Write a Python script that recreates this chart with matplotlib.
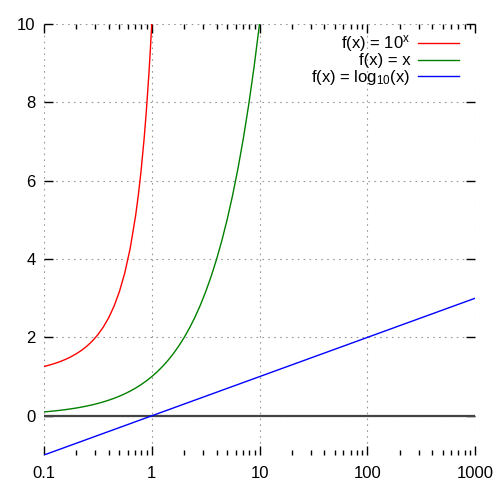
import numpy as np
import matplotlib as mpl
import matplotlib.pyplot as plt

mpl.rcParams.update({
    "font.family": ["Liberation Sans", "DejaVu Sans"],
    "mathtext.default": "regular",
    "font.size": 12,
})

# ---- data ----------------------------------------------------------------
exp_x = [0.1, 0.112, 0.126, 0.141, 0.158, 0.178, 0.2, 0.224, 0.251, 0.282,
         0.316, 0.355, 0.398, 0.447, 0.501, 0.562, 0.631, 0.708, 0.75, 0.794,
         0.85, 0.891, 0.94, 0.97, 1.0]
exp_y = [1.259, 1.294, 1.337, 1.384, 1.439, 1.507, 1.585, 1.675, 1.782, 1.914,
         2.070, 2.265, 2.500, 2.799, 3.170, 3.648, 4.276, 5.105, 5.623, 6.223,
         7.079, 7.780, 8.710, 9.333, 10.0]

lin_x = [0.1, 0.112, 0.126, 0.141, 0.158, 0.178, 0.2, 0.224, 0.251, 0.282,
         0.316, 0.355, 0.398, 0.447, 0.501, 0.562, 0.631, 0.708, 0.794, 0.891,
         1.0, 1.12, 1.26, 1.41, 1.58, 1.78, 2.0, 2.24, 2.51, 2.82,
         3.16, 3.55, 3.98, 4.47, 5.01, 5.62, 6.31, 7.08, 7.94, 8.91, 10.0]
lin_y = [0.1, 0.112, 0.126, 0.141, 0.158, 0.178, 0.2, 0.224, 0.251, 0.282,
         0.316, 0.355, 0.398, 0.447, 0.501, 0.562, 0.631, 0.708, 0.794, 0.891,
         1.0, 1.12, 1.26, 1.41, 1.58, 1.78, 2.0, 2.24, 2.51, 2.82,
         3.16, 3.55, 3.98, 4.47, 5.01, 5.62, 6.31, 7.08, 7.94, 8.91, 10.0]

log_x = [0.1, 1, 10, 100, 1000]
log_y = [-1, 0, 1, 2, 3]

labels = [r"f(x) = 10$^{x}$", "f(x) = x", r"f(x) = log$_{10}$(x)"]
x_ticks = [0.1, 1, 10, 100, 1000]
x_ticklabels = ["0.1", "1", "10", "100", "1000"]
y_ticks = [0, 2, 4, 6, 8, 10]

fig = plt.figure(figsize=(5, 5), dpi=100)
ax = fig.add_axes([0.088, 0.09, 0.862, 0.862])

ax.axhline(0, color="#444444", lw=1.6, zorder=1)
ax.plot(exp_x, exp_y, color="#ff0000", lw=1.0, label=labels[0], zorder=3)
ax.plot(lin_x, lin_y, color="#008000", lw=1.0, label=labels[1], zorder=3)
ax.plot(log_x, log_y, color="#0000ff", lw=1.0, label=labels[2], zorder=3)

ax.set_xscale("log")
ax.set_xlim(0.1, 1000)
ax.set_ylim(-1, 10)
ax.set_xticks(x_ticks)
ax.set_xticklabels(x_ticklabels)
ax.set_yticks(y_ticks)
ax.xaxis.set_minor_locator(mpl.ticker.LogLocator(base=10, subs=np.arange(2, 10)))
ax.xaxis.set_minor_formatter(mpl.ticker.NullFormatter())

for s in ax.spines.values():
    s.set_visible(False)
ax.tick_params(which="both", direction="in", top=True, right=True, width=1.0,
               color="black", labelsize=12)
ax.tick_params(which="major", length=6.5, pad=8)
ax.tick_params(which="minor", length=3.3)
ax.tick_params(axis="y", pad=6)
ax.grid(True, which="major", color="#999999", ls=(0, (1.5, 3.8)), lw=0.8)
ax.set_axisbelow(True)

ax.legend(loc="upper right", bbox_to_anchor=(0.979, 0.994), borderaxespad=0,
          frameon=False, markerfirst=False, handlelength=2.45,
          handletextpad=0.48, labelspacing=-0.05, fontsize=12)

fig.savefig("out.png", dpi=100)
